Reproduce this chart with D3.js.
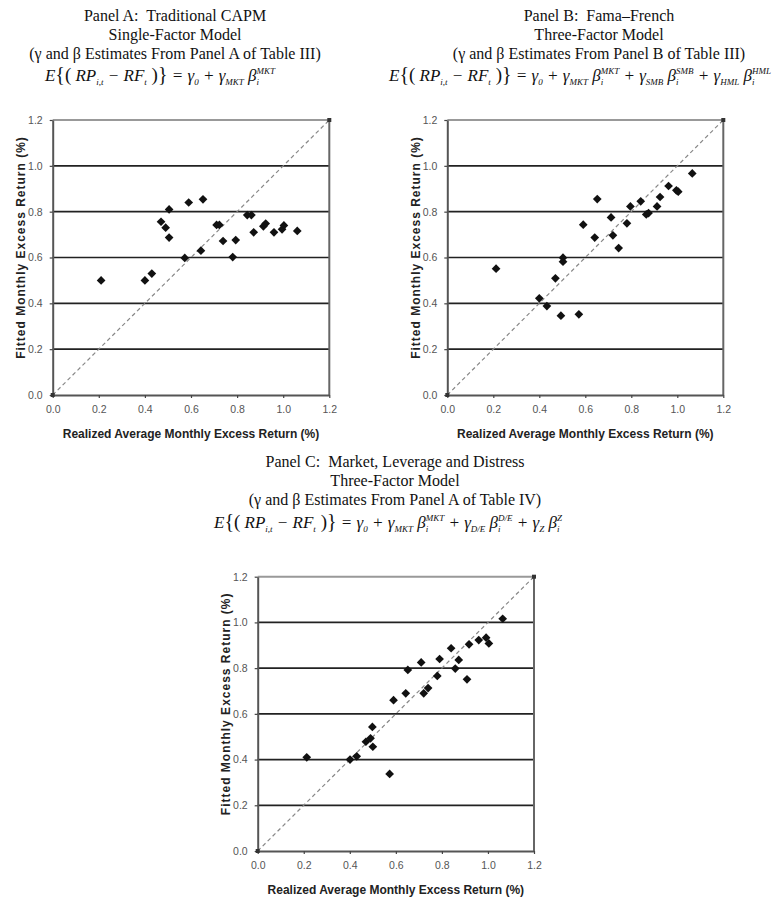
<!DOCTYPE html>
<html>
<head>
<meta charset="utf-8">
<script src="https://cdn.jsdelivr.net/npm/d3@7"></script>
<style>
  body { margin: 0; background: #fff; }
  text { white-space: pre; }
</style>
</head>
<body>
<div id="chart-area"></div>
<script>
// realized vs fitted monthly excess returns, three models
var ticks = [0, 0.2, 0.4, 0.6, 0.8, 1.0, 1.2];
var gridTicks = [0.2, 0.4, 0.6, 0.8, 1.0];

var titlesA = ['Panel A:  Traditional CAPM', 'Single-Factor Model', '(\u03b3 and \u03b2 Estimates From Panel A of Table III)'];
var titlesB = ['Panel B:  Fama\u2013French', 'Three-Factor Model', '(\u03b3 and \u03b2 Estimates From Panel B of Table III)'];
var titlesC = ['Panel C:  Market, Leverage and Distress', 'Three-Factor Model', '(\u03b3 and \u03b2 Estimates From Panel A of Table IV)'];

var xLabelText = 'Realized Average Monthly Excess Return (%)';
var yLabelText = 'Fitted Monthly Excess Return (%)';

var realA = [0.21, 0.40, 0.43, 0.47, 0.49, 0.505, 0.505, 0.573, 0.59, 0.643, 0.652, 0.711, 0.723, 0.739, 0.781, 0.794, 0.844, 0.862, 0.872, 0.914, 0.924, 0.96, 0.995, 1.003, 1.061];
var fitA  = [0.50, 0.50, 0.53, 0.756, 0.73, 0.81, 0.687, 0.598, 0.84, 0.63, 0.854, 0.742, 0.742, 0.672, 0.602, 0.676, 0.785, 0.785, 0.71, 0.736, 0.748, 0.71, 0.723, 0.74, 0.716];

var realB = [0.212, 0.40, 0.433, 0.494, 0.47, 0.503, 0.503, 0.572, 0.591, 0.641, 0.652, 0.712, 0.72, 0.745, 0.781, 0.796, 0.841, 0.865, 0.875, 0.912, 0.925, 0.962, 0.996, 1.004, 1.065];
var fitB  = [0.551, 0.422, 0.388, 0.346, 0.509, 0.599, 0.582, 0.352, 0.743, 0.687, 0.855, 0.775, 0.697, 0.641, 0.749, 0.823, 0.845, 0.788, 0.794, 0.823, 0.864, 0.912, 0.893, 0.887, 0.967];

var realC = [0.213, 0.401, 0.43, 0.47, 0.49, 0.498, 0.50, 0.573, 0.59, 0.643, 0.652, 0.71, 0.721, 0.74, 0.78, 0.79, 0.84, 0.858, 0.873, 0.909, 0.918, 0.96, 0.992, 1.004, 1.064];
var fitC  = [0.41, 0.40, 0.414, 0.478, 0.493, 0.543, 0.456, 0.337, 0.66, 0.69, 0.792, 0.825, 0.69, 0.713, 0.766, 0.84, 0.887, 0.798, 0.836, 0.751, 0.904, 0.923, 0.933, 0.908, 1.016];

// equation pieces: [text, kind, dx]
var eqA = [['E','n'],['{','big'],['(','par'],[' RP','n'],['i,t','sub'],[' \u2212 RF','n'],['t','sub'],[' )','par'],['}','big'],[' = \u03b3','n'],['0','sub'],[' + \u03b3','n'],['MKT','sub'],[' \u03b2','n'],['i','sub'],['MKT','sup',-2.5]];
var eqB = [['E','n'],['{','big'],['(','par'],[' RP','n'],['i,t','sub'],[' \u2212 RF','n'],['t','sub'],[' )','par'],['}','big'],[' = \u03b3','n'],['0','sub'],[' + \u03b3','n'],['MKT','sub'],[' \u03b2','n'],['i','sub'],['MKT','sup',-2.5],
           [' + \u03b3','n'],['SMB','sub'],[' \u03b2','n'],['i','sub'],['SMB','sup',-2.5],[' + \u03b3','n'],['HML','sub'],[' \u03b2','n'],['i','sub'],['HML','sup',-2.5]];
var eqC = [['E','n'],['{','big'],['(','par'],[' RP','n'],['i,t','sub'],[' \u2212 RF','n'],['t','sub'],[' )','par'],['}','big'],[' = \u03b3','n'],['0','sub'],[' + \u03b3','n'],['MKT','sub'],[' \u03b2','n'],['i','sub'],['MKT','sup',-2.5],
           [' + \u03b3','n'],['D/E','sub'],[' \u03b2','n'],['i','sub'],['D/E','sup',-2.5],[' + \u03b3','n'],['Z','sub'],[' \u03b2','n'],['i','sub'],['Z','sup',-2.5]];

var outerWidth = 773;
var outerHeight = 898;

var svg = d3.select('#chart-area').append('svg')
            .attr('width', outerWidth)
            .attr('height', outerHeight)
            .style('background', '#fff');

function drawTitles(lines, cx, y0) {
  lines.forEach(function(t, i) {
    svg.append('text')
       .attr('x', cx)
       .attr('y', y0 + i * 19)
       .attr('text-anchor', 'middle')
       .attr('font-family', 'Liberation Serif, serif')
       .attr('font-size', '16px')
       .attr('fill', '#111')
       .text(t);
  });
}

function drawEquation(parts, cx, y) {
  var t = svg.append('text')
             .attr('x', cx)
             .attr('y', y)
             .attr('text-anchor', 'middle')
             .attr('font-family', 'Liberation Serif, serif')
             .attr('font-style', 'italic')
             .attr('font-size', '17px')
             .attr('fill', '#111');
  var shift = 0;
  parts.forEach(function(p) {
    var target = p[1] === 'sub' ? 4 : (p[1] === 'sup' ? -7 : 0);
    var ts = t.append('tspan').attr('dy', target - shift).text(p[0]);
    if (p[1] === 'sub' || p[1] === 'sup') ts.attr('font-size', '9px');
    if (p[1] === 'big') ts.attr('font-size', '20px').attr('font-style', 'normal');
    if (p[1] === 'par') ts.attr('font-size', '19px').attr('font-style', 'normal');
    if (p[2]) ts.attr('dx', p[2]);
    shift = target;
  });
}

function drawPanel(p, real, fit) {
  var xScale = d3.scaleLinear().domain([0, 1.2]).range([p.left, p.right]);
  var yScale = d3.scaleLinear().domain([0, 1.2]).range([p.bottom, p.top]);
  var g = svg.append('g');

  // horizontal gridlines
  g.selectAll('.grid').data(gridTicks).enter().append('line')
   .attr('x1', xScale(0)).attr('x2', xScale(1.2))
   .attr('y1', function(d){ return yScale(d); })
   .attr('y2', function(d){ return yScale(d); })
   .attr('stroke', '#222')
   .attr('stroke-width', 1.7);

  // frame top + right
  g.append('line')
   .attr('x1', xScale(0)).attr('x2', xScale(1.2))
   .attr('y1', yScale(1.2)).attr('y2', yScale(1.2))
   .attr('stroke', '#999').attr('stroke-width', 2);
  g.append('line')
   .attr('x1', xScale(1.2)).attr('x2', xScale(1.2))
   .attr('y1', yScale(0)).attr('y2', yScale(1.2))
   .attr('stroke', '#666').attr('stroke-width', 2);

  // axes
  var xAxis = d3.axisBottom(xScale).tickValues(ticks).tickSize(3).tickSizeOuter(0).tickPadding(8).tickFormat(d3.format('.1f'));
  var yAxis = d3.axisLeft(yScale).tickValues(ticks).tickSize(3).tickSizeOuter(0).tickPadding(7).tickFormat(d3.format('.1f'));

  var xAxisG = g.append('g').attr('transform', 'translate(0,' + p.bottom + ')').call(xAxis);
  var yAxisG = g.append('g').attr('transform', 'translate(' + p.left + ',0)').call(yAxis);
  [xAxisG, yAxisG].forEach(function(a) {
    a.select('.domain').attr('stroke', '#555').attr('stroke-width', 2);
    a.selectAll('.tick line').attr('stroke', '#444').attr('stroke-width', 1.2);
    a.selectAll('.tick text')
     .attr('font-family', 'Liberation Sans, Arial, sans-serif')
     .attr('font-size', '10.5px')
     .attr('fill', '#555');
  });

  // 45 degree line
  g.append('line')
   .attr('x1', xScale(0)).attr('y1', yScale(0))
   .attr('x2', xScale(1.2)).attr('y2', yScale(1.2))
   .attr('stroke', '#888')
   .attr('stroke-width', 1.2)
   .attr('stroke-dasharray', '4,3');
  g.selectAll('.endpt').data([0, 1.2]).enter().append('rect')
   .attr('x', function(d){ return xScale(d) - 2; })
   .attr('y', function(d){ return yScale(d) - 2; })
   .attr('width', 4).attr('height', 4)
   .attr('fill', '#333');

  // points
  var diamond = d3.symbol().type(d3.symbolSquare).size(38);
  g.selectAll('.pt').data(real).enter().append('path')
   .attr('d', diamond)
   .attr('transform', function(d, i){ return 'translate(' + xScale(d) + ',' + yScale(fit[i]) + ') rotate(45)'; })
   .attr('fill', '#111');

  // axis labels
  g.append('text')
   .attr('x', (p.left + p.right) / 2)
   .attr('y', p.bottom + 43)
   .attr('text-anchor', 'middle')
   .attr('font-family', 'Liberation Sans, Arial, sans-serif')
   .attr('font-weight', 'bold')
   .attr('font-size', '12px')
   .attr('fill', '#222')
   .text(xLabelText);
  g.append('text')
   .attr('transform', 'translate(' + (p.left - 32) + ',' + ((p.top + p.bottom) / 2 - 10) + ') rotate(-90)')
   .attr('text-anchor', 'middle')
   .attr('dy', '0.35em')
   .attr('font-family', 'Liberation Sans, Arial, sans-serif')
   .attr('font-weight', 'bold')
   .attr('font-size', '12px')
   .attr('letter-spacing', '1px')
   .attr('fill', '#222')
   .text(yLabelText);
}

var panelA = {left: 52.7, right: 329.3, top: 120, bottom: 395};
var panelB = {left: 447.3, right: 723.3, top: 120, bottom: 395};
var panelC = {left: 257.7, right: 534, top: 576.7, bottom: 851};

drawTitles(titlesA, 175, 20.5);
drawEquation(eqA, 160, 81);
drawTitles(titlesB, 599, 20.5);
drawEquation(eqB, 580, 81);
drawTitles(titlesC, 395, 467);
drawEquation(eqC, 388, 528);

drawPanel(panelA, realA, fitA);
drawPanel(panelB, realB, fitB);
drawPanel(panelC, realC, fitC);
</script>
</body>
</html>
